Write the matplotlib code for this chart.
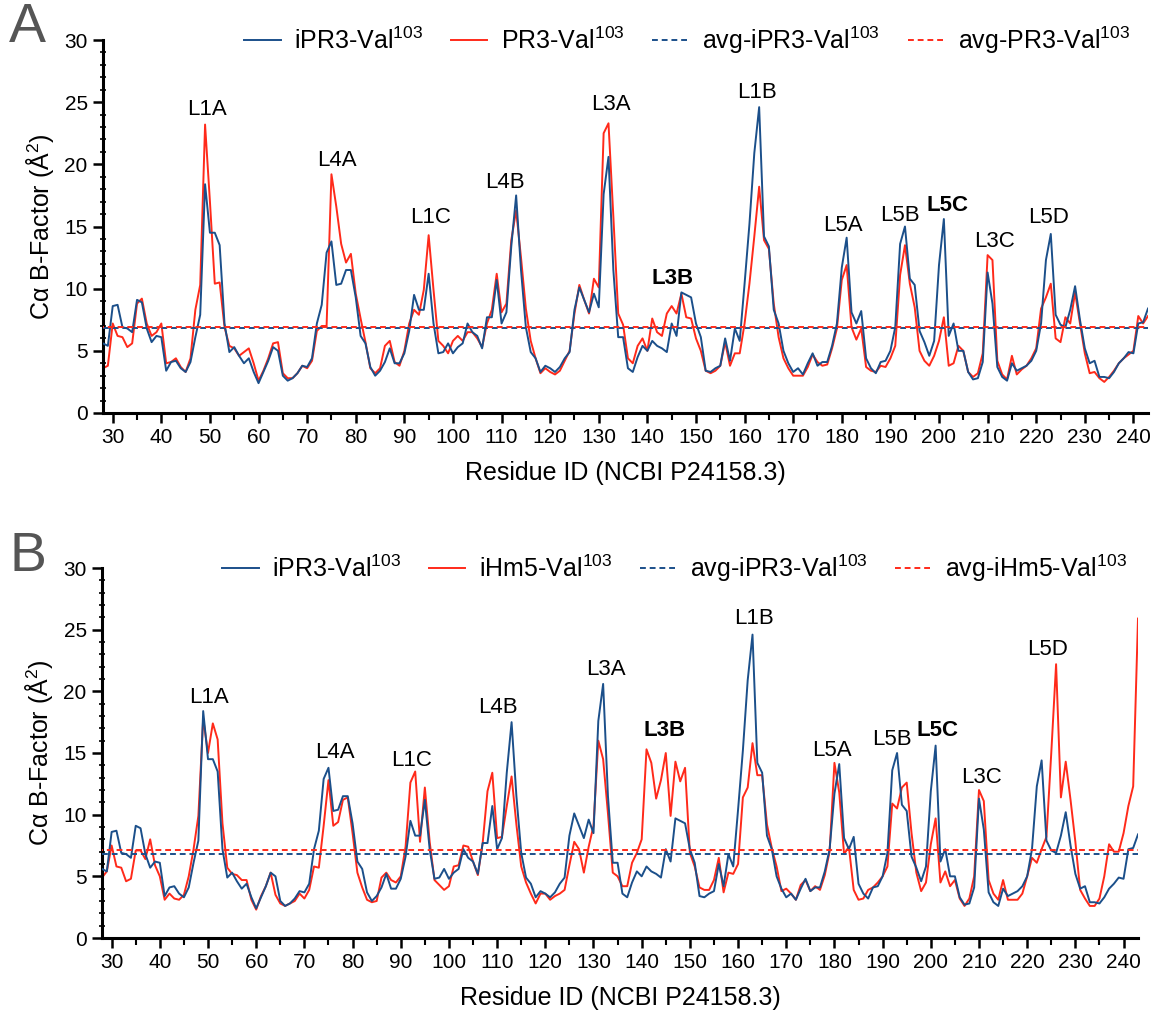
import numpy as np
import matplotlib
matplotlib.use("Agg")
import matplotlib.pyplot as plt
from matplotlib.ticker import MultipleLocator
from matplotlib.lines import Line2D

plt.rcParams['font.family'] = ['Liberation Sans', 'DejaVu Sans']
plt.rcParams['mathtext.fontset'] = 'custom'
plt.rcParams['mathtext.rm'] = 'Liberation Sans'
plt.rcParams['mathtext.default'] = 'regular'

residues = list(range(28, 244))

ipr3 = [5.6, 5.4, 8.6, 8.7, 6.9, 6.8, 6.5, 9.1, 8.9, 6.8, 5.7, 6.2, 6.1, 3.4, 4.1, 4.2, 3.6, 3.3, 4.1, 6.1,
        7.9, 18.4, 14.5, 14.5, 13.5, 7.2, 4.9, 5.3, 4.6, 4.0, 4.4, 3.3, 2.4, 3.3, 4.2, 5.3, 5.0, 3.0, 2.6, 2.8,
        3.2, 3.8, 3.7, 4.4, 7.2, 8.7, 12.9, 13.8, 10.3, 10.4, 11.5, 11.5, 9.3, 6.2, 5.6, 3.7, 3.0, 3.4, 4.1, 5.2,
        4.0, 4.0, 4.8, 6.6, 9.5, 8.3, 8.3, 11.2, 7.2, 4.8, 4.9, 5.6, 4.8, 5.3, 5.6, 7.2, 6.5, 6.2, 5.2, 7.7,
        7.7, 10.7, 7.2, 8.1, 13.4, 17.5, 11.5, 6.9, 4.9, 4.4, 3.3, 3.8, 3.6, 3.3, 3.7, 4.4, 4.9, 8.3, 10.1, 9.1,
        8.1, 9.6, 8.5, 17.6, 20.6, 11.5, 6.1, 6.1, 3.6, 3.3, 4.5, 5.4, 5.0, 5.8, 5.4, 5.2, 4.9, 7.2, 6.2, 9.7,
        9.5, 9.3, 7.2, 6.1, 3.4, 3.3, 3.6, 3.8, 6.0, 4.2, 6.8, 5.8, 10.4, 15.2, 20.9, 24.6, 14.2, 13.4, 8.3, 7.2,
        5.0, 4.0, 3.3, 3.6, 3.1, 4.0, 4.8, 3.8, 4.1, 4.1, 5.4, 7.2, 11.7, 14.1, 8.1, 7.2, 8.2, 4.4, 3.6, 3.2,
        4.1, 4.2, 5.0, 6.9, 13.6, 15.0, 10.8, 10.3, 6.6, 5.7, 4.6, 5.8, 11.9, 15.6, 6.2, 7.2, 5.0, 5.0, 3.3, 2.7,
        2.8, 4.1, 11.3, 8.8, 3.7, 2.9, 2.6, 4.0, 3.4, 3.6, 3.8, 4.2, 5.0, 7.2, 12.3, 14.4, 7.9, 7.1, 6.9, 8.3,
        10.2, 7.5, 5.2, 4.0, 4.2, 2.9, 2.9, 2.8, 3.3, 4.0, 4.4, 4.9, 4.8, 7.2, 7.3, 8.4]

pr3 = [3.6, 3.8, 7.2, 6.2, 6.1, 5.3, 5.6, 8.8, 9.2, 7.2, 6.2, 6.5, 7.2, 4.0, 4.1, 4.4, 3.7, 3.3, 4.4, 8.3,
       10.3, 23.2, 17.0, 10.4, 10.5, 6.9, 5.4, 5.2, 4.6, 4.9, 5.2, 4.0, 2.6, 3.4, 4.4, 5.6, 5.7, 3.2, 2.8, 2.8,
       3.2, 3.8, 3.6, 4.2, 6.6, 7.0, 7.0, 19.2, 16.6, 13.6, 12.1, 12.8, 9.6, 7.6, 5.7, 3.6, 3.2, 3.6, 5.4, 5.8,
       4.1, 3.8, 5.0, 7.2, 8.3, 7.9, 9.9, 14.3, 9.9, 5.8, 5.4, 4.8, 5.8, 6.2, 5.8, 6.5, 6.5, 6.0, 5.3, 7.2,
       8.3, 11.2, 8.1, 8.8, 13.9, 16.3, 12.5, 8.4, 5.8, 4.4, 3.2, 3.6, 3.3, 3.1, 3.4, 4.2, 5.0, 8.0, 10.3, 9.1,
       8.0, 10.8, 10.1, 22.5, 23.3, 15.8, 8.0, 7.1, 4.4, 4.0, 5.4, 6.0, 5.0, 7.6, 6.5, 6.2, 8.0, 8.6, 8.0, 9.6,
       7.7, 7.6, 6.0, 5.0, 3.4, 3.2, 3.4, 3.8, 5.7, 3.8, 4.8, 4.8, 7.2, 10.4, 14.2, 18.2, 13.9, 13.2, 8.8, 6.1,
       4.4, 3.6, 3.0, 3.0, 3.0, 3.7, 4.7, 4.1, 3.8, 3.9, 5.2, 6.8, 10.7, 11.9, 6.9, 5.9, 6.8, 3.7, 3.4, 3.3,
       3.8, 3.7, 4.4, 5.4, 11.1, 13.5, 10.4, 8.5, 5.0, 4.2, 3.8, 4.6, 5.8, 7.7, 3.8, 4.0, 5.4, 5.0, 3.3, 2.9,
       3.2, 4.8, 12.7, 12.3, 4.2, 3.1, 2.7, 4.6, 3.1, 3.5, 3.8, 4.4, 5.2, 8.4, 9.3, 10.4, 6.0, 5.7, 7.7, 7.2,
       9.7, 7.2, 4.8, 3.2, 3.3, 2.8, 2.5, 2.9, 3.4, 4.0, 4.4, 4.7, 5.0, 7.8, 7.2, 7.8]

ihm5 = [4.9, 5.4, 7.5, 5.8, 5.7, 4.6, 4.8, 7.1, 7.1, 6.4, 8.0, 5.9, 5.0, 3.1, 3.6, 3.2, 3.1, 3.5, 5.0, 7.2,
        9.9, 17.8, 15.0, 17.4, 16.1, 9.3, 5.7, 5.2, 5.1, 4.7, 4.7, 3.1, 2.3, 3.4, 4.2, 5.3, 3.5, 2.8, 2.6, 2.8,
        3.0, 3.6, 3.2, 3.9, 5.8, 5.7, 9.1, 12.8, 9.1, 9.4, 11.2, 11.4, 8.5, 5.3, 4.1, 3.1, 2.9, 3.0, 4.9, 5.3,
        4.7, 4.5, 5.0, 7.4, 12.6, 13.5, 7.8, 12.2, 7.8, 4.7, 4.3, 3.9, 4.2, 5.8, 5.9, 7.5, 7.4, 6.2, 5.1, 7.7,
        11.9, 13.4, 8.1, 8.2, 10.7, 13.1, 9.2, 5.8, 4.5, 3.6, 2.8, 3.6, 3.6, 3.1, 3.4, 3.6, 3.9, 5.9, 7.8, 7.2,
        5.3, 7.4, 9.1, 16.0, 14.5, 10.1, 5.3, 5.0, 4.2, 4.2, 6.1, 6.9, 8.0, 15.3, 14.2, 11.3, 12.8, 15.0, 9.9, 14.3,
        12.7, 13.8, 6.9, 5.8, 4.1, 3.9, 3.9, 4.7, 6.5, 3.7, 5.3, 5.2, 6.0, 11.4, 12.2, 15.8, 13.2, 13.2, 9.2, 7.3,
        5.8, 3.8, 4.0, 3.6, 3.1, 4.3, 4.7, 3.8, 4.2, 3.9, 5.1, 7.0, 14.2, 11.8, 6.8, 7.4, 3.9, 3.1, 3.2, 3.9,
        4.1, 4.5, 5.0, 5.8, 10.9, 10.5, 12.2, 12.6, 8.5, 5.3, 3.8, 4.5, 7.6, 9.7, 4.5, 5.4, 4.2, 4.7, 3.2, 2.6,
        3.2, 5.0, 12.0, 11.1, 4.7, 3.6, 3.1, 4.7, 3.1, 3.1, 3.1, 3.6, 5.0, 6.5, 6.1, 7.2, 8.2, 15.0, 22.2, 11.4,
        14.3, 11.2, 7.8, 3.9, 3.2, 2.6, 2.6, 3.2, 5.0, 7.6, 7.0, 7.0, 8.5, 10.7, 12.3, 25.9]

avg_ipr3 = 6.84
avg_pr3 = 6.9
avg_ihm5 = 7.1

x_ticks = list(range(30, 250, 10))

labels_a = ["L1A", "L4A", "L1C", "L4B", "L3A", "L3B", "L1B", "L5A", "L5B", "L5C", "L3C", "L5D"]
labels_a_x = [49.4, 76.1, 95.3, 110.7, 132.6, 145.1, 162.5, 180.3, 192.0, 201.7, 211.4, 222.5]
labels_a_y = [24.4, 20.3, 15.7, 18.5, 24.8, 10.8, 25.8, 15.1, 15.9, 16.7, 13.8, 15.7]
labels_b = ["L1A", "L4A", "L1C", "L4B", "L3A", "L3B", "L1B", "L5A", "L5B", "L5C", "L3C", "L5D"]
labels_b_x = [50.2, 76.3, 92.2, 110.1, 132.5, 144.7, 163.4, 179.5, 191.9, 201.3, 210.6, 224.3]
labels_b_y = [19.5, 15.0, 14.4, 18.7, 21.8, 16.8, 25.9, 15.2, 16.1, 16.8, 13.0, 23.4]
bold_labels = {"L3B", "L5C"}

BLUE = '#1b4f8a'
RED = '#ff2a1a'
DASH = (0, (3, 2))

fig = plt.figure(figsize=(11.58, 10.17), dpi=100)
axA = fig.add_axes([103/1158, 1-413/1017, 1045/1158, 373/1017])
axB = fig.add_axes([102/1158, 1-938/1017, 1036/1158, 370/1017])


def style(ax):
    ax.set_xlim(28, 243)
    ax.set_ylim(0, 30)
    for s in ['top', 'right']:
        ax.spines[s].set_visible(False)
    for s in ['left', 'bottom']:
        ax.spines[s].set_linewidth(2.2)
    ax.set_xticks(x_ticks)
    ax.set_yticks([0, 5, 10, 15, 20, 25, 30])
    ax.xaxis.set_minor_locator(MultipleLocator(5))
    ax.yaxis.set_minor_locator(MultipleLocator(1))
    ax.tick_params(axis='both', which='major', length=7, width=1.8, labelsize=15, pad=4)
    ax.tick_params(axis='x', which='minor', length=5, width=1.5)
    ax.tick_params(axis='y', which='minor', length=4, width=1.2, direction='inout')
    ax.set_xlabel('Residue ID (NCBI P24158.3)', fontsize=18, labelpad=10)
    ax.set_ylabel('C\u03b1 B-Factor (\u00c5$^2$)', fontsize=18, labelpad=6)


def draw(ax, s2, name2, avg2, labels, lx, ly):
    ax.plot(residues, ipr3, color=BLUE, lw=1.4, zorder=3)
    ax.plot(residues, s2, color=RED, lw=1.4, zorder=2)
    ax.plot([28, 243], [avg_ipr3, avg_ipr3], color=BLUE, lw=1.4, ls=(0, (3, 2)), zorder=4)
    ax.plot([28, 243], [avg2, avg2], color=RED, lw=1.4, ls=(2.5, (3, 2)), zorder=4)
    for t, x, y in zip(labels, lx, ly):
        ax.text(x, y, t, ha='center', va='center', fontsize=16,
                fontweight='bold' if t in bold_labels else 'normal')
    style(ax)
    handles = [Line2D([], [], color=BLUE, lw=1.4),
               Line2D([], [], color=RED, lw=1.4),
               Line2D([], [], color=BLUE, lw=1.4, ls=DASH),
               Line2D([], [], color=RED, lw=1.4, ls=DASH)]
    names = ['iPR3-Val$^{103}$', name2 + '-Val$^{103}$',
             'avg-iPR3-Val$^{103}$', 'avg-' + name2 + '-Val$^{103}$']
    return handles, names


hA, nA = draw(axA, pr3, 'PR3', avg_pr3, labels_a, labels_a_x, labels_a_y)
hB, nB = draw(axB, ihm5, 'iHm5', avg_ihm5, labels_b, labels_b_x, labels_b_y)

for ax, h, n, cx in [(axA, hA, nA, 0.559), (axB, hB, nB, 0.553)]:
    ax.legend(h, n, loc='center', bbox_to_anchor=(cx, 1.0), ncol=4, frameon=False, fontsize=18,
              handlelength=1.45, handletextpad=0.55, columnspacing=1.1, borderaxespad=0)

fig.text(0.008, 0.998, 'A', fontsize=40, color='#555555', va='top', ha='left')
fig.text(0.008, 0.478, 'B', fontsize=40, color='#555555', va='top', ha='left')

fig.savefig('out.png', dpi=100)
